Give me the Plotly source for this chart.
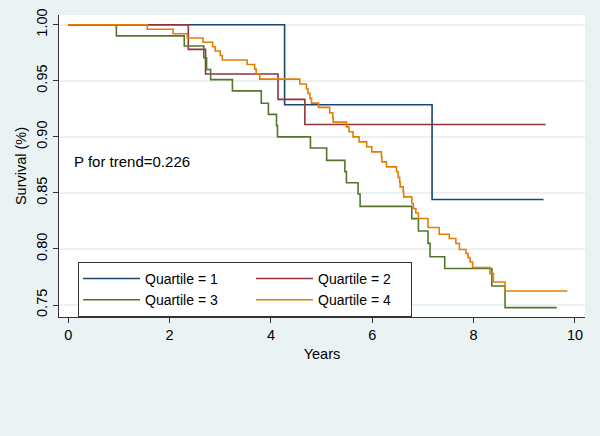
import plotly.graph_objects as go

# ---- data ----
q1_times = [4.27, 7.18]
q1_surv = [0.9286, 0.8441]
q1_end = 9.38

q2_times = [2.37, 2.71, 4.14, 4.67]
q2_surv = [0.978, 0.956, 0.9334, 0.911]
q2_end = 9.42

q3_times = [0.95, 2.29, 2.675, 2.73, 2.81, 3.24, 3.81, 3.95, 4.11, 4.13, 4.78, 5.10,
            5.46, 5.49, 5.72, 5.76, 6.78, 6.91, 7.10, 7.14, 7.43, 8.36, 8.62]
q3_surv = [0.990, 0.981, 0.9705, 0.960, 0.951, 0.941, 0.930, 0.920, 0.910, 0.900, 0.890, 0.879,
           0.869, 0.859, 0.849, 0.838, 0.827, 0.816, 0.805, 0.793, 0.7825, 0.767, 0.7477]
q3_end = 9.64

q4_times = [1.56, 2.07, 2.35, 2.66, 2.85, 2.90, 3.00, 3.04, 3.53, 3.68, 3.71, 3.78,
            4.57, 4.70, 4.73, 4.77, 4.80, 4.94, 5.16, 5.22, 5.23, 5.49, 5.54, 5.62,
            5.74, 5.89, 5.99, 6.18, 6.19, 6.28, 6.48, 6.51, 6.54, 6.55, 6.61, 6.62,
            6.78, 6.81, 6.86, 6.91, 7.10, 7.32, 7.52, 7.65, 7.72, 7.85, 7.89, 7.93,
            7.98, 8.32, 8.39, 8.62]
q4_surv = [0.9959, 0.9919, 0.9881, 0.9844, 0.9804, 0.9765, 0.9725, 0.9685, 0.9645, 0.9604, 0.9560, 0.9515,
           0.9471, 0.9430, 0.9388, 0.9343, 0.9301, 0.9263, 0.9214, 0.9171, 0.9131, 0.9089, 0.9045, 0.9000,
           0.8955, 0.8911, 0.8866, 0.8823, 0.8777, 0.8732, 0.8688, 0.8638, 0.8596, 0.8554, 0.8511, 0.8464,
           0.8405, 0.8361, 0.8321, 0.8271, 0.8191, 0.8131, 0.8093, 0.8048, 0.7995, 0.7959, 0.7923, 0.7884,
           0.7834, 0.7780, 0.7705, 0.7625]
q4_end = 9.85

series_names = ["Quartile = 1", "Quartile = 2", "Quartile = 3", "Quartile = 4"]
series_colors = ["#1a476f", "#90353b", "#55752f", "#e37e00"]
y_ticks = [0.75, 0.80, 0.85, 0.90, 0.95, 1.00]
x_ticks = [0, 2, 4, 6, 8, 10]
p_text = "P for trend=0.226"

FONT = "Liberation Sans, Arial, Helvetica, sans-serif"
BG = "#eaf2f3"

series = [
    (q1_times, q1_surv, q1_end),
    (q2_times, q2_surv, q2_end),
    (q3_times, q3_surv, q3_end),
    (q4_times, q4_surv, q4_end),
]
groups = ["a", "b", "a", "b"]
entry_widths = [101, 88, 101, 88]

fig = go.Figure()
for (t, s, end), name, col, grp, ew in zip(series, series_names, series_colors, groups, entry_widths):
    xs = [0.0] + list(t) + [end]
    ys = [1.0] + list(s) + [s[-1]]
    fig.add_trace(go.Scatter(
        x=xs, y=ys, mode="lines", name=name, legendgroup=grp, legendwidth=ew,
        line=dict(color=col, width=1.6, shape="hv"),
    ))

fig.add_annotation(
    text=p_text, xref="paper", yref="paper", x=0.0247, y=0.514,
    xanchor="left", yanchor="middle", showarrow=False,
    font=dict(family=FONT, size=15, color="#000000"),
)

fig.update_layout(
    width=600, height=436,
    margin=dict(l=59, r=15, t=15, b=119, autoexpand=False),
    paper_bgcolor=BG, plot_bgcolor="#ffffff",
    font=dict(family=FONT, size=14.5, color="#000000"),
    showlegend=True,
    legend=dict(
        orientation="h", traceorder="grouped",
        x=0.0361, y=0.1823, xanchor="left", yanchor="top",
        bgcolor="#ffffff", bordercolor="#333333", borderwidth=1,
        itemwidth=57, entrywidthmode="pixels",
        tracegroupgap=0,
        font=dict(family=FONT, size=14, color="#000000"),
    ),
    xaxis=dict(
        range=[-0.182, 10.198], tickvals=x_ticks, ticks="outside", ticklen=5,
        tickcolor="#333333", showline=True, linecolor="#333333", linewidth=1,
        showgrid=False, zeroline=False, automargin=False,
        title=dict(text="Years", font=dict(family=FONT, size=14.5), standoff=6),
        tickfont=dict(family=FONT, size=14.5),
    ),
    yaxis=dict(
        range=[0.7393, 1.00866], tickvals=y_ticks, tickformat=".2f",
        ticks="outside", ticklen=5, tickcolor="#333333", tickangle=-90,
        showline=True, linecolor="#333333", linewidth=1, automargin=False,
        showgrid=True, gridcolor=BG, gridwidth=1.5, zeroline=False,
        title=dict(text="Survival (%)", font=dict(family=FONT, size=14.5), standoff=4),
        tickfont=dict(family=FONT, size=14.5),
    ),
)

fig.write_html(
    "out.html",
    config={"displayModeBar": False},
    post_script="document.body.style.margin='0px';document.body.style.background='%s';" % BG,
)
